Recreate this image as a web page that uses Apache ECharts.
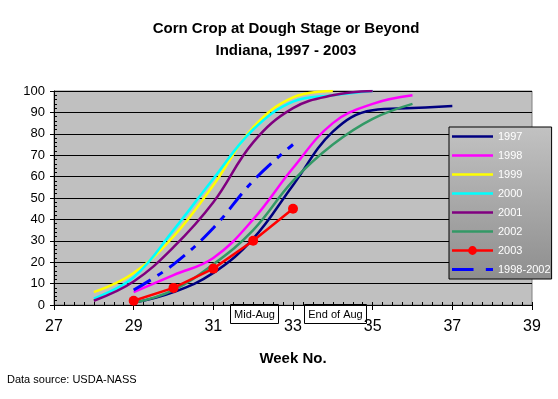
<!DOCTYPE html>
<html>
<head>
<meta charset="utf-8">
<script src="https://cdn.jsdelivr.net/npm/echarts@6/dist/echarts.min.js"></script>
<style>
  html, body { margin: 0; padding: 0; background: #fff; }
  #chart { width: 558px; height: 399px; }
</style>
</head>
<body>
<div id="chart"></div>
<script>
// week numbers and % at dough stage
const weeks1997 = [29, 30, 31, 32, 33, 34, 35, 36, 37];
const vals1997 = [1, 6, 15, 31, 56, 81, 91, 92, 93];
const weeks1998 = [29, 30, 31, 32, 33, 34, 35, 36];
const vals1998 = [6, 14, 22, 40, 64, 85, 94, 98];
const weeks1999 = [28, 29, 30, 31, 32, 33, 34];
const vals1999 = [6, 15, 32, 56, 83, 97, 100];
const weeks2000 = [28, 29, 30, 31, 32, 33, 34, 35];
const vals2000 = [3, 13, 35, 59, 82, 95, 98, 100];
const weeks2001 = [28, 29, 30, 31, 32, 33, 34, 35];
const vals2001 = [2, 11, 27, 48, 76, 92, 98, 100];
const weeks2002 = [29, 30, 31, 32, 33, 34, 35, 36];
const vals2002 = [1, 7, 19, 35, 58, 75, 87, 94];
const weeks2003 = [29, 30, 31, 32, 33];
const vals2003 = [2, 8, 17, 30, 45];
const weeksAvg = [29, 30, 31, 32, 33];
const valsAvg = [7, 19, 36, 58, 75];

const FONT = 'Liberation Sans, Arial, sans-serif';

// legend icons (line samples like the excel legend)
const ICON_LINE = 'path://M0,0h42v2.5h-42z';
const ICON_DOT = 'path://M0,3.75h42v2.5h-42z M16.5,5a4.5,4.5 0 1,1 9,0a4.5,4.5 0 1,1 -9,0z';
const ICON_DASH = 'path://M0,0h21v3h-21z M33,0h7v3h-7z';

function pairs(w, v) {
    return w.map(function (x, i) { return [x, v[i]]; });
}

function yearLine(name, color, w, v) {
    return {
        name: name,
        type: 'line',
        data: pairs(w, v),
        smooth: 0.4,
        symbol: 'none',
        lineStyle: {color: color, width: 2.5},
        itemStyle: {color: color},
        emphasis: {disabled: true}
    };
}

const chart = echarts.init(document.getElementById('chart'));

const option = {
    animation: false,
    textStyle: {fontFamily: FONT},
    title: {
        text: 'Corn Crop at Dough Stage or Beyond\nIndiana, 1997 - 2003',
        left: 281,
        top: 13,
        textAlign: 'center',
        textStyle: {fontSize: 15, fontWeight: 'bold', color: '#000', lineHeight: 22, fontFamily: FONT}
    },
    grid: {
        left: 54, right: 26, top: 91, bottom: 94,
        show: true,
        backgroundColor: '#C0C0C0',
        borderColor: '#808080',
        borderWidth: 1
    },
    legend: {
        orient: 'vertical',
        left: 449,
        top: 127,
        padding: [4, 1, 4, 3],
        itemWidth: 41,
        itemHeight: 12,
        itemGap: 8,
        symbolKeepAspect: true,
        backgroundColor: new echarts.graphic.LinearGradient(0, 0, 0, 1, [
            {offset: 0, color: '#C2C2C2'},
            {offset: 1, color: '#8E8E8E'}
        ]),
        borderColor: '#000',
        borderWidth: 1,
        textStyle: {color: '#fff', fontSize: 11, fontFamily: FONT},
        selectedMode: false,
        data: [
            {name: '1997', icon: ICON_LINE},
            {name: '1998', icon: ICON_LINE},
            {name: '1999', icon: ICON_LINE},
            {name: '2000', icon: ICON_LINE},
            {name: '2001', icon: ICON_LINE},
            {name: '2002', icon: ICON_LINE},
            {name: '2003', icon: ICON_DOT},
            {name: '1998-2002', icon: ICON_DASH}
        ]
    },
    xAxis: [{
        type: 'value',
        min: 27, max: 39, interval: 2,
        position: 'bottom',
        name: 'Week No.',
        nameLocation: 'middle',
        nameGap: 46,
        nameTextStyle: {fontSize: 15, fontWeight: 'bold', color: '#000', fontFamily: FONT},
        axisLine: {show: true, onZero: false, lineStyle: {color: '#000', width: 1}},
        axisTick: {show: true, inside: false, length: 5, lineStyle: {color: '#000'}},
        axisLabel: {fontSize: 16, color: '#000', margin: 14, fontFamily: FONT},
        splitLine: {show: false}
    }, {
        // minor ticks every quarter week
        type: 'value',
        min: 27, max: 39, interval: 0.25,
        position: 'bottom',
        axisLine: {show: false},
        axisTick: {show: true, inside: true, length: 3, lineStyle: {color: '#000'}},
        axisLabel: {show: false},
        splitLine: {show: false}
    }],
    yAxis: [{
        type: 'value',
        min: 0, max: 100, interval: 10,
        position: 'left',
        axisLine: {show: true, onZero: false, lineStyle: {color: '#000', width: 1}},
        axisTick: {show: true, inside: false, length: 4, lineStyle: {color: '#000'}},
        axisLabel: {fontSize: 13, color: '#000', margin: 9, fontFamily: FONT},
        splitLine: {show: true, lineStyle: {color: '#000', width: 1}}
    }, {
        type: 'value',
        min: 0, max: 100, interval: 2,
        position: 'left',
        axisLine: {show: false},
        axisTick: {show: true, inside: true, length: 3, lineStyle: {color: '#000'}},
        axisLabel: {show: false},
        splitLine: {show: false}
    }],
    series: [
        yearLine('1997', '#000080', weeks1997, vals1997),
        yearLine('1998', '#FF00FF', weeks1998, vals1998),
        yearLine('1999', '#FFFF00', weeks1999, vals1999),
        yearLine('2000', '#00FFFF', weeks2000, vals2000),
        yearLine('2001', '#800080', weeks2001, vals2001),
        yearLine('2002', '#339966', weeks2002, vals2002),
        {
            name: '2003',
            type: 'line',
            data: pairs(weeks2003, vals2003),
            symbol: 'circle',
            symbolSize: 10,
            lineStyle: {color: '#FF0000', width: 2.5},
            itemStyle: {color: '#FF0000'},
            emphasis: {disabled: true},
            z: 3
        },
        {
            name: '1998-2002',
            type: 'line',
            data: pairs(weeksAvg, valsAvg),
            smooth: 0.4,
            symbol: 'none',
            lineStyle: {color: '#0000FF', width: 3, type: [20, 8, 6, 8]},
            itemStyle: {color: '#0000FF'},
            emphasis: {disabled: true},
            z: 3
        }
    ],
    graphic: [
        {
            type: 'group', left: 230, top: 304, z: 100,
            children: [
                {type: 'rect', shape: {x: 0, y: 0, width: 48, height: 19},
                    style: {fill: '#fff', stroke: '#000', lineWidth: 1}},
                {type: 'text', x: 24, y: 10,
                    style: {text: 'Mid-Aug', fill: '#000', font: '11px ' + FONT,
                        textAlign: 'center', textVerticalAlign: 'middle'}}
            ]
        },
        {
            type: 'group', left: 304, top: 304, z: 100,
            children: [
                {type: 'rect', shape: {x: 0, y: 0, width: 62, height: 19},
                    style: {fill: '#fff', stroke: '#000', lineWidth: 1}},
                {type: 'text', x: 31, y: 10,
                    style: {text: 'End of Aug', fill: '#000', font: '11px ' + FONT,
                        textAlign: 'center', textVerticalAlign: 'middle'}}
            ]
        },
        {
            type: 'text', left: 7, top: 374, z: 100,
            style: {text: 'Data source: USDA-NASS', fill: '#000', font: '11px ' + FONT}
        }
    ]
};

chart.setOption(option);
</script>
</body>
</html>
